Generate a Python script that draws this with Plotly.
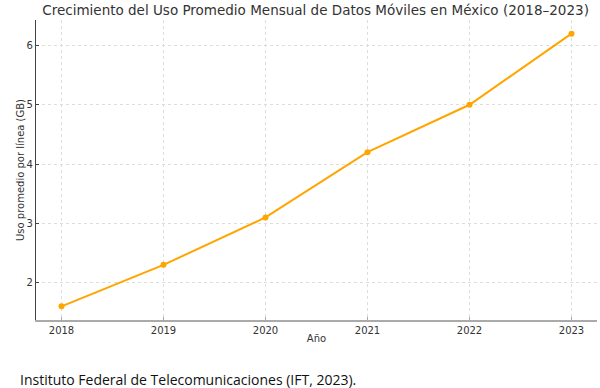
import plotly.graph_objects as go

years = [2018, 2019, 2020, 2021, 2022, 2023]
uso_gb = [1.6, 2.3, 3.1, 4.2, 5.0, 6.2]
y_ticks = [2, 3, 4, 5, 6]

fig = go.Figure()
fig.add_trace(go.Scatter(
    x=years, y=uso_gb, mode="lines+markers",
    line=dict(color="#FFA500", width=2),
    marker=dict(color="#FFA500", size=6),
    showlegend=False,
))

axis_font = dict(family="DejaVu Sans", size=10, color="#333333")
fig.update_layout(
    width=600, height=388,
    margin=dict(l=36, r=3, t=20, b=68, autoexpand=False),
    paper_bgcolor="white", plot_bgcolor="white",
    title=dict(
        text="Crecimiento del Uso Promedio Mensual de Datos Móviles en México (2018–2023)",
        x=0.526, xanchor="center", y=0.974, yanchor="middle",
        font=dict(family="DejaVu Sans", size=13.5, color="#333333"),
    ),
    xaxis=dict(
        range=[2017.75, 2023.25], tickvals=years, ticktext=[str(y) for y in years],
        showgrid=True, gridcolor="#dddddd", griddash="dot", gridwidth=1,
        showline=True, linecolor="#aaaaaa", linewidth=1.6, mirror=False,
        ticks="inside", ticklen=3, tickcolor="#aaaaaa",
        tickfont=axis_font, zeroline=False, automargin=False,
        title=dict(text="Año", font=dict(family="DejaVu Sans", size=10, color="#333333"), standoff=0),
    ),
    yaxis=dict(
        range=[1.37, 6.43], tickvals=y_ticks,
        showgrid=True, gridcolor="#dddddd", griddash="dot", gridwidth=1,
        showline=True, linecolor="#444444", linewidth=1.2, mirror=False,
        ticks="inside", ticklen=3, tickcolor="#444444",
        tickfont=axis_font, zeroline=False, automargin=False,
        title=dict(text="Uso promedio por línea (GB)", font=dict(family="DejaVu Sans", size=10, color="#333333"), standoff=0),
    ),
)
fig.add_annotation(
    text="Instituto Federal de Telecomunicaciones (IFT, 2023).",
    xref="paper", yref="paper", x=-0.032, y=-0.197, xanchor="left", yanchor="middle",
    showarrow=False, align="left",
    font=dict(family="Open Sans", size=14, color="#111111"),
)
fig.write_html(
    "out.html",
    config={"displayModeBar": False},
    post_script="document.body.style.margin='0';document.body.style.overflow='hidden';",
)
